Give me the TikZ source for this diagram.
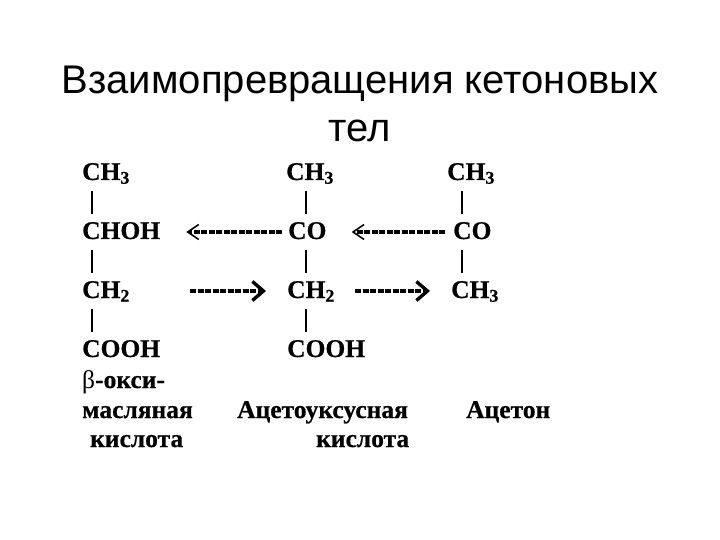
\documentclass[tikz,border=0pt]{standalone}
\usepackage{fontspec}
\setmainfont[BoldFeatures={FakeBold=0.6}]{Liberation Serif}
\newfontfamily\titlefont{Liberation Sans}
\usetikzlibrary{arrows.meta}

\tikzset{
  titletext/.style={font=\titlefont\fontsize{40}{48}\selectfont, align=center, inner sep=0pt},
  chem/.style={font=\bfseries\fontsize{25.5}{28}\selectfont, anchor=base west, inner sep=0pt, text height=25pt, text depth=11pt},
  substance/.style={font=\bfseries\fontsize{25.5}{28}\selectfont, anchor=base west, inner sep=0pt},
  bond/.style={line width=1.3pt},
  backarrow/.style={line width=3.2pt, dash pattern=on 6pt off 1.5pt, -{Straight Barb[length=11pt,width=15pt,line width=1.6pt]}},
  fwdarrow/.style={line width=3.2pt, dash pattern=on 6pt off 1.5pt, -{Straight Barb[length=11pt,width=19pt,line width=3.4pt]}}
}

\begin{document}
\begin{tikzpicture}[x=1pt, y=-1pt]
  \useasboundingbox (0,0) rectangle (720,540);

  \node[titletext, anchor=north] (title) at (360,66) {Взаимопревращения кетоновых\\тел};

  % left column
  \node[chem] (ch3a) at (82,180) {CH\textsubscript{3}};
  \node[chem] (choh) at (82,239) {CHOH};
  \node[chem] (ch2a) at (82,298) {CH\textsubscript{2}};
  \node[chem] (cooha) at (82,357) {COOH};

  % middle column
  \node[chem] (ch3b) at (286,180) {CH\textsubscript{3}};
  \node[chem] (cob) at (288,239) {CO};
  \node[chem] (ch2b) at (287,298) {CH\textsubscript{2}};
  \node[chem] (coohb) at (287,357) {COOH};

  % right column
  \node[chem] (ch3c) at (447,180) {CH\textsubscript{3}};
  \node[chem] (coc) at (453,239) {CO};
  \node[chem] (ch3d) at (451,298) {CH\textsubscript{3}};

  % names
  \node[substance] (oxy) at (82,388) {{\mdseries β}-окси-};
  \node[substance] (butyric) at (82,418) {масляная};
  \node[substance] (acida) at (90,447) {кислота};
  \node[substance] (acetoacetic) at (237,418) {Ацетоуксусная};
  \node[substance] (acidb) at (316,447) {кислота};
  \node[substance] (acetone) at (466,418) {Ацетон};

  % bonds
  \draw[bond] ([xshift=10pt]ch3a.south west) -- ([xshift=10pt]choh.north west);
  \draw[bond] ([xshift=10pt]choh.south west) -- ([xshift=10pt]ch2a.north west);
  \draw[bond] ([xshift=10pt]ch2a.south west) -- ([xshift=10pt]cooha.north west);
  \draw[bond] ([xshift=20pt]ch3b.south west) -- ([xshift=18pt]cob.north west);
  \draw[bond] ([xshift=18pt]cob.south west) -- ([xshift=19pt]ch2b.north west);
  \draw[bond] ([xshift=19pt]ch2b.south west) -- ([xshift=19pt]coohb.north west);
  \draw[bond] ([xshift=15pt]ch3c.south west) -- ([xshift=9pt]coc.north west);
  \draw[bond] ([xshift=9pt]coc.south west) -- ([xshift=11pt]ch3d.north west);

  % arrows
  \draw[backarrow, shorten <=6pt, shorten >=26pt] (cob.west) -- (choh.east);
  \draw[backarrow, shorten <=8pt, shorten >=25pt] (coc.west) -- (cob.east);
  \draw[fwdarrow, shorten <=60pt, shorten >=21pt] (ch2a.east) -- (ch2b.west);
  \draw[fwdarrow, shorten <=20pt, shorten >=21pt] (ch2b.east) -- (ch3d.west);
\end{tikzpicture}
\end{document}
